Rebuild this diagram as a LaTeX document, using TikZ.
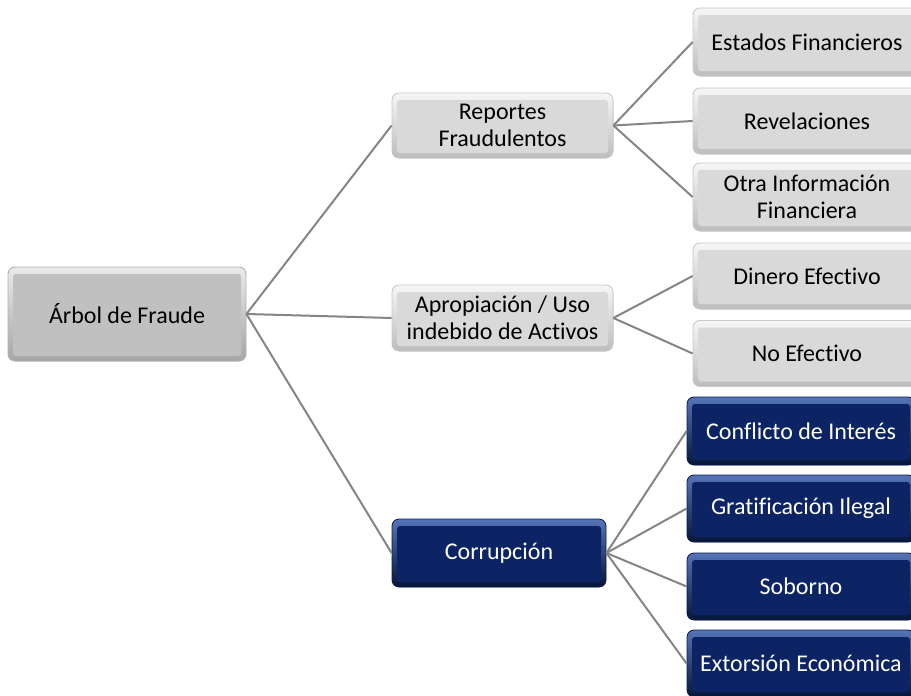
\documentclass[tikz,border=0pt]{standalone}
\usepackage{fontspec}
\setmainfont{Carlito}[Ligatures={NoCommon}]
\usetikzlibrary{calc}
\definecolor{gbase}{HTML}{D9D9D9}
\definecolor{glight}{HTML}{F6F6F6}
\definecolor{gdark}{HTML}{BDBDBD}
\definecolor{gedge}{HTML}{CACACA}
\definecolor{rbase}{HTML}{C0C0C0}
\definecolor{rlight}{HTML}{EAEAEA}
\definecolor{rdark}{HTML}{A6A6A6}
\definecolor{redge}{HTML}{B0B0B0}
\definecolor{bbase}{HTML}{0C2463}
\definecolor{blight}{HTML}{5574B8}
\definecolor{bdark}{HTML}{051538}
\definecolor{bedge}{HTML}{0A1D4F}
\definecolor{conn}{HTML}{858585}
\tikzset{
  x=1pt, y=1pt,
  bevbox/.style n args={3}{rectangle, rounded corners=7pt, draw=#3, line width=0.8pt,
    inner sep=0pt, align=center, font=\fontsize{24}{27}\selectfont,
    path picture={
      \fill[top color=#1, bottom color=#2] (path picture bounding box.north west) rectangle (path picture bounding box.south east);
      \fill[fill=\bevfill, rounded corners=3pt] ([shift={(5pt,-7pt)}]path picture bounding box.north west) rectangle ([shift={(-5pt,5pt)}]path picture bounding box.south east);
    }},
  graybox/.style={bevbox={glight}{gdark}{gedge}, text=black},
  rootbox/.style={bevbox={rlight}{rdark}{redge}, text=black},
  bluebox/.style={bevbox={blight}{bdark}{bedge}, text=white},
  conline/.style={draw=conn, line width=2pt},
}
\newcommand{\bevfill}{gbase}
\begin{document}
\begin{tikzpicture}
\useasboundingbox (0,0) rectangle (911,-696);
\clip (0,0) rectangle (911,-696);
\begin{scope}
\renewcommand{\bevfill}{rbase}
\node[rootbox, minimum width=238pt, minimum height=94pt] (root) at (127,-314) {Árbol de Fraude};
\end{scope}
\node[graybox, minimum width=221pt, minimum height=65pt] (rep) at (502.5,-125.5) {Reportes\\Fraudulentos};
\node[graybox, minimum width=221pt, minimum height=66pt] (apr) at (502.5,-318) {Apropiación / Uso\\indebido de Activos};
\node[graybox, minimum width=228pt, minimum height=68pt] (est) at (807,-42) {Estados Financieros};
\node[graybox, minimum width=228pt, minimum height=66pt] (rev) at (807,-121) {Revelaciones};
\node[graybox, minimum width=228pt, minimum height=68pt] (otr) at (807,-197) {Otra Información\\Financiera};
\node[graybox, minimum width=228pt, minimum height=66pt] (din) at (807,-276) {Dinero Efectivo};
\node[graybox, minimum width=228pt, minimum height=66pt] (noe) at (807,-353.5) {No Efectivo};
\begin{scope}
\renewcommand{\bevfill}{bbase}
\node[bluebox, minimum width=214pt, minimum height=68pt] (cor) at (499,-553) {Corrupción};
\node[bluebox, minimum width=228pt, minimum height=68pt] (con) at (801,-431) {Conflicto de Interés};
\node[bluebox, minimum width=228pt, minimum height=67pt] (gra) at (801,-508.5) {Gratificación Ilegal};
\node[bluebox, minimum width=228pt, minimum height=67pt] (sob) at (801,-586.5) {Soborno};
\node[bluebox, minimum width=228pt, minimum height=67pt] (ext) at (801,-663.5) {Extorsión Económica};
\end{scope}
\path[conline] (root.east) -- (rep.west);
\path[conline] (root.east) -- (apr.west);
\path[conline] (root.east) -- (cor.west);
\path[conline] (rep.east) -- (est.west);
\path[conline] (rep.east) -- (rev.west);
\path[conline] (rep.east) -- (otr.west);
\path[conline] (apr.east) -- (din.west);
\path[conline] (apr.east) -- (noe.west);
\path[conline] (cor.east) -- (con.west);
\path[conline] (cor.east) -- (gra.west);
\path[conline] (cor.east) -- (sob.west);
\path[conline] (cor.east) -- (ext.west);
\end{tikzpicture}
\end{document}
